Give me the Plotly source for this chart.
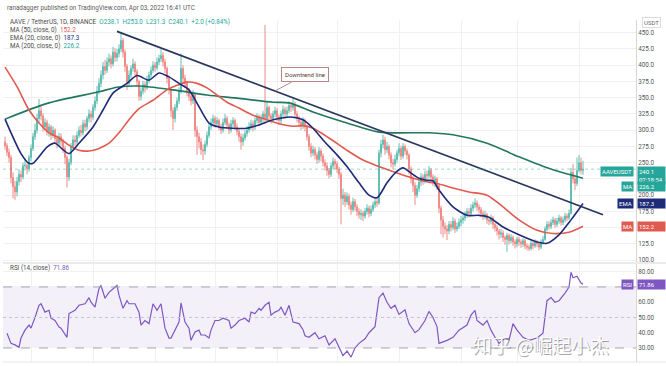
import pandas as pd
import plotly.graph_objects as go

START = pd.Timestamp("2021-06-18")

closes = [276,266,258,227,213,205,221,232,228,245,
          246,241,258,272,290,300,318,330,322,305,
          312,298,305,292,300,287,280,290,283,272,
          258,228,250,275,285,282,292,300,296,310,
          305,318,325,320,335,345,360,372,385,398,
          392,405,410,402,420,412,418,425,438,420,
          398,372,385,395,402,390,375,352,360,370,
          365,378,385,392,400,396,405,410,415,405,
          395,380,362,330,318,335,345,360,395,380,
          372,360,352,345,355,300,290,282,270,268,
          278,292,305,312,318,310,315,305,300,312,
          318,308,300,310,315,305,298,290,282,288,
          295,300,305,310,305,315,320,312,318,325,
          318,335,322,318,325,330,320,315,325,332,
          325,330,338,335,340,325,318,312,308,315,
          305,290,275,265,270,262,255,268,260,250,
          245,238,232,245,252,248,240,232,195,200,
          190,198,185,178,190,182,175,170,172,168,
          175,180,172,178,185,190,188,265,278,285,
          270,275,262,250,248,255,265,272,260,275,
          268,262,240,225,215,200,210,220,228,222,
          232,230,238,228,220,225,215,180,162,152,
          148,145,155,150,160,148,152,158,162,165,
          170,175,172,180,185,188,182,178,172,168,
          170,162,160,165,155,150,145,140,142,135,
          132,138,130,135,128,125,132,128,125,130,
          122,120,118,126,122,128,125,120,128,132,
          148,155,152,158,162,155,160,165,158,162,
          168,165,172,235,225,218,238,250,238.1,240.1]

highs = [290,280,272,262,235,222,228,240,238,250,
         256,250,262,278,296,310,325,348,338,326,
         318,316,310,308,306,303,292,296,295,287,
         276,262,256,280,292,292,298,306,308,316,
         316,322,332,330,340,352,368,380,392,405,
         408,412,418,415,428,426,425,432,450,442,
         424,402,392,400,410,406,394,378,366,376,
         375,384,390,398,406,405,412,416,425,420,
         410,398,384,366,335,340,350,366,418,400,
         385,376,365,356,362,358,306,296,288,278,
         284,298,310,318,324,322,320,318,310,318,
         325,322,312,316,320,318,310,302,295,294,
         300,306,312,316,315,320,326,324,324,330,
         462,343,338,326,330,336,334,324,330,338,
         336,336,344,342,349,344,330,322,316,320,
         318,308,294,280,276,274,266,274,272,264,
         255,250,242,250,258,256,252,244,236,210,
         205,204,202,190,196,194,186,180,178,176,
         180,186,184,184,190,196,195,270,285,293,
         290,282,278,266,256,262,270,280,276,280,
         278,272,265,244,230,220,216,226,234,232,
         238,238,245,242,232,230,228,218,184,168,
         158,154,160,160,166,164,158,164,168,170,
         175,180,180,186,190,195,192,186,182,176,
         176,173,166,170,168,158,154,148,148,146,
         138,142,141,140,138,132,136,136,132,134,
         133,126,124,130,129,132,131,128,132,137,
         152,160,160,163,167,165,165,170,168,167,
         173,172,178,242,248,230,258,262,258,253]

lows = [270,260,250,218,195,193,198,215,220,224,
        238,232,236,252,268,285,295,312,315,298,
        300,292,290,285,288,280,272,276,276,265,
        248,212,222,246,270,275,278,288,290,292,
        298,300,312,312,316,330,340,355,366,378,
        385,388,398,395,398,405,406,412,420,412,
        390,362,368,380,390,384,368,345,346,355,
        358,362,372,380,388,390,392,400,405,398,
        388,372,355,320,300,312,330,340,356,372,
        365,352,345,338,340,290,262,272,262,254,
        262,274,288,300,306,304,305,300,294,296,
        308,302,294,296,305,300,292,282,270,276,
        284,290,296,300,298,300,310,306,308,312,
        312,314,316,310,314,320,314,308,310,320,
        318,320,326,328,330,320,312,305,300,302,
        298,284,268,258,260,255,248,250,252,244,
        238,230,226,228,240,240,234,225,155,185,
        182,185,178,170,174,176,168,164,162,160,
        164,170,166,168,174,180,182,185,258,272,
        262,265,255,243,240,244,250,260,254,256,
        262,255,232,218,205,185,196,205,214,216,
        218,224,226,222,214,212,208,172,140,135,
        140,131,140,144,146,142,144,148,152,156,
        160,165,166,168,175,180,176,172,166,162,
        163,156,154,155,148,144,138,132,134,128,
        124,113,124,126,122,118,120,122,119,120,
        117,115,114,115,117,119,120,115,117,124,
        130,144,147,148,154,150,151,156,153,154,
        158,160,162,170,218,208,214,235,232,231.3]

first_open = 282
opens = [first_open] + closes[:-1]

# Moving averages (day offset from START, value)
ma200_day = [0,22,47,56,67,84,101,117,134,142,154,171,187,212,224,241,257,274,289]
ma200_val = [317,342,359,366,368,362,354,349,343,342,328,311,297,296,293,280,259,239,226.2]

ema20_day = [0,8,12,14,21,25,29,32,37,44,49,54,61,66,72,77,82,87,92,97,102,107,114,121,127,
             134,141,144,149,154,159,166,171,177,182,186,191,195,199,203,207,211,214,217,224,
             231,237,242,249,257,266,271,277,283,289]
ema20_val = [317,264,249,249,274,280,270,264,280,305,331,357,372,384,377,388,382,372,362,336,311,305,303,303,308,
             316,320,320,316,303,285,262,244,219,200,196,219,234,242,234,226,223,222,208,182,
             169,169,166,151,139,128,126,139,162,187.3]

ma50_day = [0,6,12,17,22,27,32,37,42,47,52,57,62,67,74,81,86,91,96,101,106,111,117,124,131,
            137,144,149,154,162,171,179,187,196,204,212,216,224,232,241,249,257,266,274,282,289]
ma50_val = [397,367,331,311,296,288,277,269,268,272,280,296,316,333,346,362,369,374,372,365,354,343,334,323,316,
            310,306,307,303,288,269,254,244,234,226,220,218,211,205,200,182,162,146,141,143,152.2]

trend_day = [56, 299]
trend_val = [452, 170]

rsi_day = [1,3,5,7,8,10,12,13,15,17,18,20,22,23,25,27,28,31,32,35,37,40,42,43,45,47,48,50,52,54,56,57,59,
           61,62,65,67,68,70,72,74,76,78,80,82,83,85,87,88,90,92,93,95,97,98,100,102,103,105,107,109,
           112,113,115,117,120,122,123,125,127,128,130,132,133,135,137,138,140,142,144,147,149,150,152,
           155,157,160,162,165,167,169,171,173,175,177,180,182,185,187,189,191,193,195,197,200,202,205,
           207,210,212,214,216,217,221,224,227,231,233,235,236,239,241,243,245,247,250,252,254,256,259,
           262,266,269,271,273,275,277,280,282,283,284,286,287,288,289]
rsi_val = [39.7,33,32,30.5,36.5,41.7,45,43,50,58,59,53.5,54.7,49.5,48,43.7,43,37,52.6,54.7,58,59,63,60,56.7,69,71,
           62.6,66.5,69,71,64.6,56,61,59,59,53.5,45,48,46,59,54.7,59,43,36.5,36.5,41.7,47,59.5,47,43,35,40.5,
           41.7,38.5,38.5,36.5,41.7,48,48,49.5,48,43,45,48,49.5,47,53.5,52.6,56,54.7,58,60,51.5,53.5,54.7,
           56.7,51.5,58,47,46,42,38,37,40,36,38,32,36,30,25,28,24,30,33,36,40,44,63,66,60,56,58,52,55,46,
           40,42,48,54,50,44,33,35,37,41.7,45,51.5,54.7,48,45,48,41.7,37,33,36.5,35,46,41.7,37,35,36.5,
           39.7,61,63,60,61,66,70,79.6,76,77,74.4,72.5,71.86]

price_ticks = [100,125,150,175,200,225,250,275,300,325,350,375,400,425,450]
price_hidden = [150, 225]          # covered by the indicator value tags
rsi_ticks = [30,40,50,60,70,80]
rsi_hidden = [70]

def to_dates(days):
    return [START + pd.Timedelta(days=d) for d in days]

dates = pd.date_range(START, periods=len(closes), freq="D")

UP = "#63bfb3"
DN = "#ee8c88"
C_MA200 = "#23775f"
C_EMA = "#1d2b78"
C_MA50 = "#e05a4f"
C_TREND = "#28365c"
C_RSI = "#7e57c2"
C_TEAL = "#26a69a"
FONT = "Roboto"

fig = go.Figure()

fig.add_trace(go.Candlestick(
    x=dates, open=opens, high=highs, low=lows, close=closes,
    increasing=dict(line=dict(color=UP, width=1), fillcolor=UP),
    decreasing=dict(line=dict(color=DN, width=1), fillcolor=DN),
    whiskerwidth=0, showlegend=False, hoverinfo="skip", xaxis="x", yaxis="y"))

fig.add_trace(go.Scatter(x=to_dates(ma200_day), y=ma200_val, mode="lines",
                         line=dict(color=C_MA200, width=1.6, shape="spline", smoothing=0.8),
                         showlegend=False, hoverinfo="skip", xaxis="x", yaxis="y"))
fig.add_trace(go.Scatter(x=to_dates(ma50_day), y=ma50_val, mode="lines",
                         line=dict(color=C_MA50, width=1.6, shape="spline", smoothing=0.8),
                         showlegend=False, hoverinfo="skip", xaxis="x", yaxis="y"))
fig.add_trace(go.Scatter(x=to_dates(ema20_day), y=ema20_val, mode="lines",
                         line=dict(color=C_EMA, width=1.6, shape="spline", smoothing=0.7),
                         showlegend=False, hoverinfo="skip", xaxis="x", yaxis="y"))
fig.add_trace(go.Scatter(x=to_dates(trend_day), y=trend_val, mode="lines",
                         line=dict(color=C_TREND, width=1.7),
                         showlegend=False, hoverinfo="skip", xaxis="x", yaxis="y"))

fig.add_trace(go.Scatter(x=to_dates(rsi_day), y=rsi_val, mode="lines",
                         line=dict(color=C_RSI, width=1.2),
                         showlegend=False, hoverinfo="skip", xaxis="x2", yaxis="y2"))

x_start = START - pd.Timedelta(days=1)
x_end = START + pd.Timedelta(days=315.5)

axis_common = dict(range=[x_start, x_end], showgrid=True, gridcolor="#f1f1f1", gridwidth=1,
                   dtick="M1", tick0="2021-07-01", showticklabels=False, zeroline=False,
                   ticks="", showline=False)

shapes = [
    dict(type="rect", xref="paper", yref="y2", x0=0, x1=1, y0=30, y1=70,
         fillcolor="rgba(126,87,194,0.09)", line=dict(width=0), layer="below"),
    dict(type="line", xref="paper", yref="y2", x0=0, x1=1, y0=70, y1=70,
         line=dict(color="#a9a3b3", width=1, dash="dash")),
    dict(type="line", xref="paper", yref="y2", x0=0, x1=1, y0=30, y1=30,
         line=dict(color="#a9a3b3", width=1, dash="dash")),
    dict(type="line", xref="paper", yref="y2", x0=0, x1=1, y0=50, y1=50,
         line=dict(color="#c9c3d3", width=1, dash="dot")),
    dict(type="line", xref="paper", yref="y", x0=0, x1=1, y0=closes[-1], y1=closes[-1],
         line=dict(color="rgba(38,166,154,0.45)", width=1, dash="dot")),
    dict(type="line", xref="paper", yref="paper", x0=0, x1=1.05, y0=0.2895, y1=0.2895,
         line=dict(color="#d6d6d6", width=1)),
    dict(type="line", xref="paper", yref="paper", x0=0, x1=1.05, y0=0, y1=0,
         line=dict(color="#e6e6e6", width=1)),
]

small = dict(family=FONT, size=6.3, color="#4a4a4a")

annotations = [
    dict(xref="paper", yref="paper", x=0, y=1, xanchor="left", yanchor="middle", xshift=2, yshift=12,
         text="ranadagger published on TradingView.com, Apr 03, 2022 16:41 UTC", showarrow=False,
         font=dict(family=FONT, size=6.3, color="#5a5a5a")),
    dict(xref="paper", yref="paper", x=0, y=1, xanchor="left", yanchor="middle", xshift=5, yshift=-2,
         text=("AAVE / TetherUS, 1D, BINANCE  <span style='color:%s'>O%.1f  H%.1f  L%.1f  C%.1f  +%.1f (+0.84%%)</span>"
               % (C_TEAL, opens[-1], highs[-1], lows[-1], closes[-1], closes[-1] - opens[-1])),
         showarrow=False, font=small),
    dict(xref="paper", yref="paper", x=0, y=1, xanchor="left", yanchor="middle", xshift=5, yshift=-10,
         text="MA (50, close, 0)  <span style='color:%s'>%.1f</span>" % (C_MA50, ma50_val[-1]),
         showarrow=False, font=small),
    dict(xref="paper", yref="paper", x=0, y=1, xanchor="left", yanchor="middle", xshift=5, yshift=-18,
         text="EMA (20, close, 0)  <span style='color:%s'>%.1f</span>" % (C_EMA, ema20_val[-1]),
         showarrow=False, font=small),
    dict(xref="paper", yref="paper", x=0, y=1, xanchor="left", yanchor="middle", xshift=5, yshift=-26,
         text="MA (200, close, 0)  <span style='color:%s'>%.1f</span>" % (C_TEAL, ma200_val[-1]),
         showarrow=False, font=small),
    dict(xref="paper", yref="y2", x=0, y=82.5, xanchor="left", yanchor="middle", xshift=5,
         text="RSI (14, close)  <span style='color:%s'>%.2f</span>" % (C_RSI, rsi_val[-1]),
         showarrow=False, font=small),
    dict(xref="paper", yref="paper", x=1, y=1, xanchor="center", yanchor="middle", xshift=15, yshift=-2,
         text="USDT", showarrow=False, font=dict(family=FONT, size=6, color="#666"),
         bordercolor="#dddddd", borderwidth=1, borderpad=1, bgcolor="white"),
    dict(xref="x", yref="y", x=START + pd.Timedelta(days=135),
         y=trend_val[0] + (trend_val[1] - trend_val[0]) * (135 - trend_day[0]) / (trend_day[1] - trend_day[0]),
         ax=30, ay=-16, text="Downtrend line", showarrow=True, arrowhead=0, arrowwidth=1,
         arrowcolor="#b98686", standoff=0,
         font=dict(family=FONT, size=6, color="#5a3636"),
         bordercolor="#b98686", borderwidth=1, borderpad=3, bgcolor="white"),
]

def right_label(yref, y, left_text, val_text, color, yshift=0, val_anchor="middle"):
    out = [dict(xref="paper", yref=yref, x=1, y=y, xanchor="left", yanchor=val_anchor, xshift=1, yshift=yshift,
                text=val_text, showarrow=False, bgcolor=color, borderpad=1, width=25, align="left",
                font=dict(family=FONT, size=6, color="white"))]
    if left_text:
        out.append(dict(xref="paper", yref=yref, x=1, y=y, xanchor="right", yanchor="middle", xshift=-2,
                        yshift=yshift if val_anchor == "middle" else yshift - 5,
                        text=left_text, showarrow=False, bgcolor=color, borderpad=1,
                        font=dict(family=FONT, size=6, color="white")))
    return out

annotations += right_label("y", closes[-1], "AAVEUSDT", "%.1f<br>07:18:54" % closes[-1], C_TEAL,
                           yshift=3, val_anchor="top")
annotations += right_label("y", ma200_val[-1], "MA", "%.1f" % ma200_val[-1], C_TEAL, yshift=-8)
annotations += right_label("y", ema20_val[-1], "EMA", "%.1f" % ema20_val[-1], C_EMA)
annotations += right_label("y", ma50_val[-1], "MA", "%.1f" % ma50_val[-1], C_MA50)
annotations += right_label("y2", rsi_val[-1], "RSI", "%.2f" % rsi_val[-1], C_RSI)

for dx, dy, col in [(1, -1, "rgba(90,90,90,0.55)"), (0, 0, "rgba(255,255,255,0.95)")]:
    annotations.append(dict(xref="paper", yref="paper", x=0.85, y=0.05, xanchor="center", yanchor="middle",
                            xshift=dx, yshift=dy, text="知乎 @崛起小杰", showarrow=False,
                            font=dict(family="Noto Sans CJK SC", size=19, color=col)))

fig.update_layout(
    width=666, height=366,
    margin=dict(l=3, r=30, t=20, b=4, autoexpand=False),
    paper_bgcolor="white", plot_bgcolor="white",
    font=dict(family=FONT, size=6.5, color="#444"),
    xaxis=dict(domain=[0, 1], anchor="y", rangeslider=dict(visible=False), **axis_common),
    xaxis2=dict(domain=[0, 1], anchor="y2", matches="x", **axis_common),
    yaxis=dict(domain=[0.2924, 1], range=[97.2, 469.5], side="right",
               tickvals=price_ticks,
               ticktext=["" if v in price_hidden else "%.1f" % v for v in price_ticks],
               showgrid=True, gridcolor="#f1f1f1", zeroline=False,
               showline=True, linecolor="#d6d6d6", linewidth=1, ticks="",
               tickfont=dict(family=FONT, size=6.3, color="#555"), automargin=False),
    yaxis2=dict(domain=[0, 0.2865], range=[20.8, 85.05], side="right",
                tickvals=rsi_ticks,
                ticktext=["" if v in rsi_hidden else "%.2f" % v for v in rsi_ticks],
                showgrid=True, gridcolor="#f1f1f1",
                zeroline=False, showline=True, linecolor="#d6d6d6", linewidth=1, ticks="",
                tickfont=dict(family=FONT, size=6.3, color="#555"), automargin=False),
    shapes=shapes, annotations=annotations, showlegend=False,
)

fig.write_html("out.html", config={"displayModeBar": False, "staticPlot": True},
               post_script="document.body.style.margin='0';document.body.style.overflow='hidden';")
